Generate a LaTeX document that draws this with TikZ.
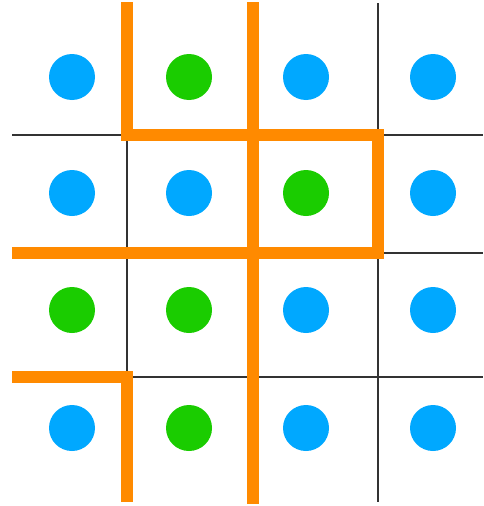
\documentclass[tikz,border=0pt]{standalone}
\definecolor{dotblue}{HTML}{00A8FF}
\definecolor{dotgreen}{HTML}{1ACC00}
\definecolor{wallorange}{HTML}{FF8A00}
\tikzset{
  bdot/.style={circle, fill=dotblue, draw=none, minimum size=46pt, inner sep=0pt},
  gdot/.style={circle, fill=dotgreen, draw=none, minimum size=46pt, inner sep=0pt},
  gridline/.style={draw=black!80, line width=1.5pt},
  wall/.style={draw=wallorange, line width=12pt, line join=miter, line cap=butt}
}
\begin{document}
\begin{tikzpicture}[x=1pt, y=-1pt]
\useasboundingbox[fill=white] (0,0) rectangle (483,506);
% thin grid lines
\draw[gridline] (12,135) -- (121,135);
\draw[gridline] (384,135) -- (483,135);
\draw[gridline] (384,253) -- (483,253);
\draw[gridline] (133,377) -- (483,377);
\draw[gridline] (127,135) -- (127,377);
\draw[gridline] (378,3) -- (378,135);
\draw[gridline] (378,253) -- (378,502);
% dots
\node[bdot] (d11) at (72,77) {};
\node[gdot] (d12) at (189,77) {};
\node[bdot] (d13) at (306,77) {};
\node[bdot] (d14) at (433,77) {};
\node[bdot] (d21) at (72,193) {};
\node[bdot] (d22) at (189,193) {};
\node[gdot] (d23) at (306,193) {};
\node[bdot] (d24) at (433,193) {};
\node[gdot] (d31) at (72,310) {};
\node[gdot] (d32) at (189,310) {};
\node[bdot] (d33) at (306,310) {};
\node[bdot] (d34) at (433,310) {};
\node[bdot] (d41) at (72,428) {};
\node[gdot] (d42) at (189,428) {};
\node[bdot] (d43) at (306,428) {};
\node[bdot] (d44) at (433,428) {};
% orange walls
\draw[wall] (127,2) -- (127,135) -- (378,135) -- (378,253) -- (12,253);
\draw[wall] (253,2) -- (253,504);
\draw[wall] (12,377) -- (127,377) -- (127,502);
\end{tikzpicture}
\end{document}
